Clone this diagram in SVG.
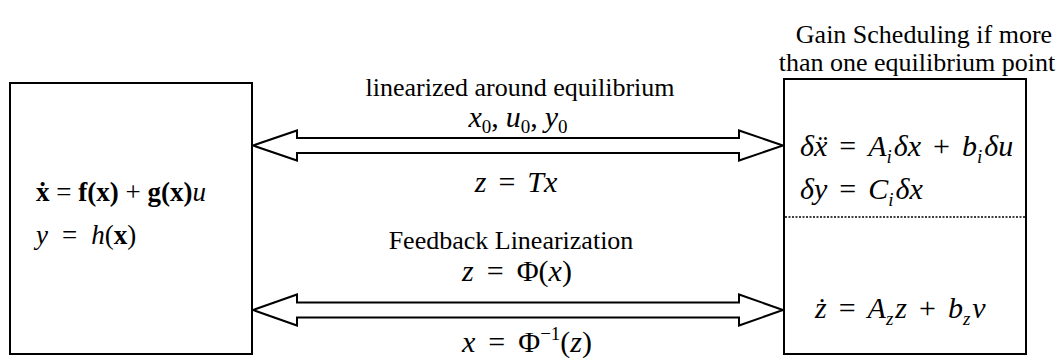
<svg xmlns="http://www.w3.org/2000/svg" width="1064" height="358" viewBox="0 0 1064 358">
<style>
.box{fill:#fff;stroke:#000;stroke-width:2}
.arr{fill:#fff;stroke:#000;stroke-width:2;stroke-linejoin:miter}
.t{font-family:"Liberation Serif","Times New Roman",serif;font-size:26px;fill:#000}
.m{font-family:"Liberation Serif","Times New Roman",serif;font-size:27px;fill:#000}
.n{font-family:"Liberation Serif","Times New Roman",serif;font-size:30px;fill:#000}
.i{font-style:italic}
.b{font-weight:bold}
.s{font-size:19px}
.c{text-anchor:middle}
</style>
<g id="connectors">
<polygon class="arr" points="253,145.5 297,130.5 297,138 739,138 739,130.5 783,145.5 739,160.5 739,153 297,153 297,160.5"/>
<polygon class="arr" points="253,310 297,294.5 297,302.5 739,302.5 739,294.5 783,310 739,325.5 739,317.5 297,317.5 297,325.5"/>
<text class="t c" x="520" y="96">linearized around equilibrium</text>
<text class="n c" x="518" y="127"><tspan class="i">x</tspan><tspan class="s" dy="6">0</tspan><tspan dy="-6">,</tspan><tspan class="i" dx="7">u</tspan><tspan class="s" dy="6">0</tspan><tspan dy="-6">,</tspan><tspan class="i" dx="7">y</tspan><tspan class="s" dy="6">0</tspan></text>
<text class="n c" x="516" y="192"><tspan class="i">z</tspan><tspan dx="12">=</tspan><tspan class="i" dx="12">Tx</tspan></text>
<text class="t c" x="511" y="249">Feedback Linearization</text>
<text class="n c" x="517" y="281"><tspan class="i">z</tspan><tspan dx="13">=</tspan><tspan dx="13">Φ(</tspan><tspan class="i">x</tspan>)</text>
<text class="n c" x="527" y="352"><tspan class="i">x</tspan><tspan dx="13">=</tspan><tspan dx="13">Φ</tspan><tspan class="s" dy="-12">−1</tspan><tspan dy="12">(</tspan><tspan class="i">z</tspan>)</text>
</g>
<g id="plant">
<rect class="box" x="10" y="83" width="242" height="271"/>
<text class="m" x="36" y="201"><tspan class="b">ẋ</tspan> = <tspan class="b">f(x)</tspan> + <tspan class="b">g(x)</tspan><tspan class="i">u</tspan></text>
<text class="m" x="36" y="244"><tspan class="i">y</tspan><tspan dx="14">=</tspan><tspan class="i" dx="14">h</tspan>(<tspan class="b">x</tspan>)</text>
</g>
<g id="linear">
<text class="t c" x="924" y="43">Gain Scheduling if more</text>
<text class="t c" x="917" y="71">than one equilibrium point</text>
<rect class="box" x="784" y="79" width="242" height="275"/>
<line x1="785" y1="217" x2="1025" y2="217" stroke="#000" stroke-width="1.5" stroke-dasharray="2,1.5"/>
<text class="n" x="800" y="156"><tspan class="i">δẍ</tspan><tspan dx="12">=</tspan><tspan class="i" dx="12">A</tspan><tspan class="i s" dy="7">i</tspan><tspan class="i" dy="-7" dx="2">δx</tspan><tspan dx="12">+</tspan><tspan class="i" dx="12">b</tspan><tspan class="i s" dy="7">i</tspan><tspan class="i" dy="-7" dx="2">δu</tspan></text>
<text class="n" x="800" y="199"><tspan class="i">δy</tspan><tspan dx="12">=</tspan><tspan class="i" dx="12">C</tspan><tspan class="i s" dy="7">i</tspan><tspan class="i" dy="-7" dx="2">δx</tspan></text>
<text class="n" x="815" y="318"><tspan class="i">ż</tspan><tspan dx="12">=</tspan><tspan class="i" dx="12">A</tspan><tspan class="i s" dy="7">z</tspan><tspan class="i" dy="-7" dx="2">z</tspan><tspan dx="12">+</tspan><tspan class="i" dx="12">b</tspan><tspan class="i s" dy="7">z</tspan><tspan class="i" dy="-7" dx="2">v</tspan></text>
</g>
</svg>
